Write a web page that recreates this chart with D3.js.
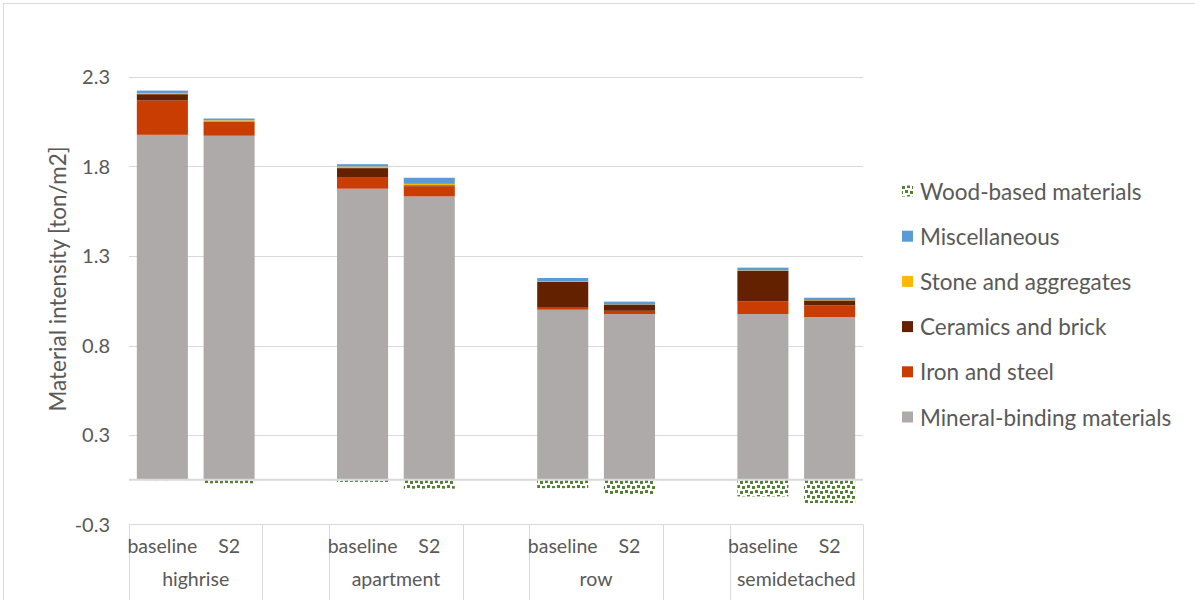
<!DOCTYPE html>
<html>
<head>
<meta charset="utf-8">
<script src="https://cdn.jsdelivr.net/npm/d3@7"></script>
<style>
  html, body { margin: 0; padding: 0; background: #fff; }
  svg text { font-family: Lato, "Open Sans", sans-serif; fill: #595959; }
</style>
</head>
<body>
<svg id="chart" width="1195" height="600"></svg>
<script>
// ---- data ----
const groups = ["highrise", "apartment", "row", "semidetached"];
const scenarios = ["baseline", "S2"];
const mineral  = [1.927, 1.922, 1.626, 1.583, 0.950, 0.926, 0.926, 0.909];
const iron     = [0.192, 0.078, 0.065, 0.056, 0.015, 0.018, 0.070, 0.065];
const ceramics = [0.035, 0.002, 0.050, 0.006, 0.140, 0.035, 0.172, 0.028];
const stone    = [0.007, 0.006, 0.009, 0.008, 0.002, 0.001, 0.002, 0.002];
const misc     = [0.013, 0.010, 0.013, 0.034, 0.020, 0.015, 0.015, 0.013];
const wood     = [-0.002, -0.020, -0.012, -0.050, -0.047, -0.080, -0.093, -0.130];
const yTickValues = [-0.25, 0.25, 0.75, 1.25, 1.75, 2.25];
const yTickLabels = ["-0.3", "0.3", "0.8", "1.3", "1.8", "2.3"];
const seriesNames = ["Mineral-binding materials", "Iron and steel", "Ceramics and brick", "Stone and aggregates", "Miscellaneous", "Wood-based materials"];
const seriesColors = ["#aeaaaa", "#c93c02", "#632100", "#ffb800", "#5b9bd5", "#548235"];

// ---- layout ----
const svg = d3.select("#chart");
const plot = { left: 129, right: 863, top: 77, bottom: 524.5 };

// border of chart area
svg.append("rect").attr("x", 3.5).attr("y", 3.5).attr("width", 1300).attr("height", 700)
  .attr("fill", "none").attr("stroke", "#d9d9d9").attr("stroke-width", 1);

// slots: baseline, S2, blank between groups
const slots = [];
groups.forEach((g, gi) => {
  scenarios.forEach((s, si) => slots.push({ key: g + "|" + s, group: g, scen: s, idx: gi * 2 + si }));
  if (gi < groups.length - 1) slots.push({ key: "blank" + gi, group: null, scen: "" });
});

const x = d3.scaleBand().domain(slots.map(d => d.key)).range([plot.left, plot.right])
  .paddingInner(0.235).paddingOuter(0.1175);
const y = d3.scaleLinear().domain([-0.25, 2.25]).range([plot.bottom, plot.top]);

// pattern for wood
const defs = svg.append("defs");
const pat = defs.append("pattern").attr("id", "confetti").attr("patternUnits", "userSpaceOnUse")
  .attr("width", 10).attr("height", 10);
pat.append("rect").attr("width", 10).attr("height", 10).attr("fill", "#fff");
[[0, 1, 3, 3], [5, 0, 3, 3], [2, 6, 3, 3], [7, 5, 3, 3]].forEach(r =>
  pat.append("rect").attr("x", r[0]).attr("y", r[1]).attr("width", r[2]).attr("height", r[3]).attr("fill", "#548235"));

// gridlines
const grid = svg.append("g");
yTickValues.filter(v => v > -0.25).forEach(v => {
  grid.append("line").attr("x1", plot.left).attr("x2", plot.right)
    .attr("y1", Math.round(y(v)) + 0.5).attr("y2", Math.round(y(v)) + 0.5)
    .attr("stroke", "#d9d9d9").attr("stroke-width", 1);
});

// stacked bars
const stackSeries = [mineral, iron, ceramics, stone, misc];
const barSlots = slots.filter(d => d.group !== null);
const barsG = svg.append("g");
barSlots.forEach(s => {
  let base = 0;
  stackSeries.forEach((arr, k) => {
    const v = arr[s.idx];
    barsG.append("rect")
      .attr("x", x(s.key)).attr("width", x.bandwidth())
      .attr("y", y(base + v)).attr("height", y(base) - y(base + v))
      .attr("fill", seriesColors[k]);
    base += v;
  });
  const w = wood[s.idx];
  barsG.append("rect")
    .attr("x", x(s.key)).attr("width", x.bandwidth())
    .attr("y", y(0)).attr("height", y(w) - y(0))
    .attr("fill", "url(#confetti)");
});

// zero line
svg.append("line").attr("x1", plot.left).attr("x2", plot.right)
  .attr("y1", y(0)).attr("y2", y(0)).attr("stroke", "#d9d9d9").attr("stroke-width", 2);

// y axis labels
const yAxis = d3.axisLeft(y).tickValues(yTickValues)
  .tickFormat((d, i) => yTickLabels[i]).tickSize(0).tickPadding(0);
const yg = svg.append("g").attr("transform", `translate(110,0)`).call(yAxis);
yg.select(".domain").remove();
yg.selectAll("text").style("font-size", "20px").attr("fill", "#595959").attr("dy", "0.34em");

// y title
svg.append("text").attr("transform", "translate(57,279) rotate(-90)")
  .attr("text-anchor", "middle").attr("dominant-baseline", "central")
  .style("font-size", "22.5px").text("Material intensity [ton/m2]");

// category axis
const axG = svg.append("g");
axG.append("line").attr("x1", plot.left).attr("x2", plot.right)
  .attr("y1", 524.5).attr("y2", 524.5).attr("stroke", "#d9d9d9");
// group boundaries
const bounds = [];
groups.forEach((g, gi) => {
  const a = x(g + "|baseline") - x.step() * x.paddingInner() / 2;
  const b = x(g + "|S2") + x.bandwidth() + x.step() * x.paddingInner() / 2;
  bounds.push(a, b);
  axG.append("text").attr("x", (a + b) / 2).attr("y", 578).attr("text-anchor", "middle")
    .attr("dominant-baseline", "central").style("font-size", "19.5px").text(g);
});
bounds.forEach(bx => {
  axG.append("line").attr("x1", Math.round(bx) + 0.5).attr("x2", Math.round(bx) + 0.5)
    .attr("y1", 524.5).attr("y2", 600).attr("stroke", "#d9d9d9");
});
barSlots.forEach(s => {
  axG.append("text").attr("x", x(s.key) + x.bandwidth() / 2).attr("y", 545)
    .attr("text-anchor", "middle").attr("dominant-baseline", "central")
    .style("font-size", "19.5px").text(s.scen);
});

// legend
const legendOrder = [5, 4, 3, 2, 1, 0];
const lg = svg.append("g");
legendOrder.forEach((k, i) => {
  const cy = 191 + i * 45.2;
  lg.append("rect").attr("x", 902).attr("y", cy - 5.5).attr("width", 11).attr("height", 11)
    .attr("fill", k === 5 ? "url(#confetti)" : seriesColors[k]);
  lg.append("text").attr("x", 920).attr("y", cy).attr("dominant-baseline", "central")
    .style("font-size", "22.5px").text(seriesNames[k]);
});
</script>
</body>
</html>
